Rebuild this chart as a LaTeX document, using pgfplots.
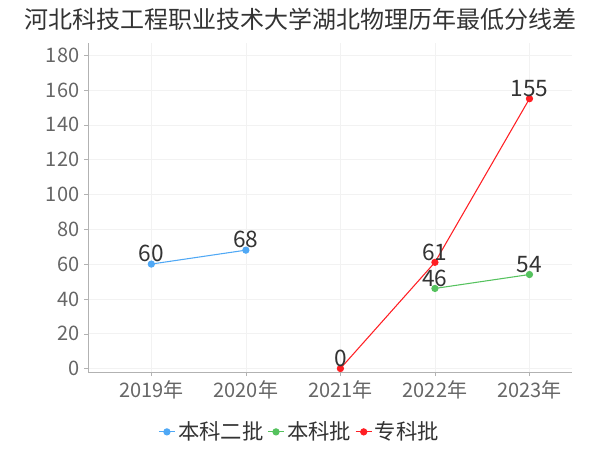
\documentclass[border=0pt]{standalone}
\usepackage{fontspec}
\setmainfont{Noto Sans CJK SC}
\usepackage{pgfplots}
\pgfplotsset{compat=1.18}
\definecolor{cblue}{HTML}{4FA8F5}
\definecolor{cgreen}{HTML}{55C25E}
\definecolor{cred}{HTML}{FF1F24}
\definecolor{ctick}{HTML}{666666}
\definecolor{clabel}{HTML}{333333}
\begin{document}
\begin{tikzpicture}
\node[font=\fontsize{18}{20}\selectfont, text=clabel] at (225pt,323pt) {河北科技工程职业技术大学湖北物理历年最低分线差};
\begin{axis}[
  at={(66pt,58.5pt)}, anchor=south west,
  scale only axis, width=363pt, height=246.75pt,
  xmin=-0.67, xmax=4.45, ymin=-2, ymax=187,
  xtick={0,1,2,3,4},
  xticklabels={2019年,2020年,2021年,2022年,2023年},
  ytick={0,20,...,180},
  /pgf/number format/assume math mode=true,
  tick label style={font=\fontsize{15}{17}\selectfont, text=ctick},
  axis x line*=bottom, axis y line*=left,
  axis line style={draw=black!30},
  tick style={draw=black!30},
  tick align=outside, major tick length=3pt,
  grid=major, grid style={draw=black!5},
  every axis plot/.append style={line width=0.8pt, mark=*, mark size=2.3pt},
  nodes near coords,
  nodes near coords style={font=\fontsize{17}{19}\selectfont, text=clabel, anchor=south, inner sep=1pt},
  legend columns=3,
  legend style={draw=none, fill=none, at={(0.438,-0.182)}, anchor=center,
    font=\fontsize{16}{18}\selectfont, text=clabel,
    /tikz/every even column/.append style={column sep=1pt}},
  legend image code/.code={
    \draw[#1, mark repeat=2, mark phase=2] plot coordinates {(0pt,0pt) (6pt,0pt) (12pt,0pt)};},
]
\addplot[color=cblue, mark options={fill=cblue, draw=cblue}] coordinates {(0,60) (1,68)};
\addplot[color=cgreen, mark options={fill=cgreen, draw=cgreen}] coordinates {(3,46) (4,54)};
\addplot[color=cred, mark options={fill=cred, draw=cred}] coordinates {(2,0) (3,61) (4,155)};
\legend{本科二批,本科批,专科批}
\end{axis}
\pgfresetboundingbox
\useasboundingbox (0pt,0pt) rectangle (450pt,337.5pt);
\end{tikzpicture}
\end{document}
